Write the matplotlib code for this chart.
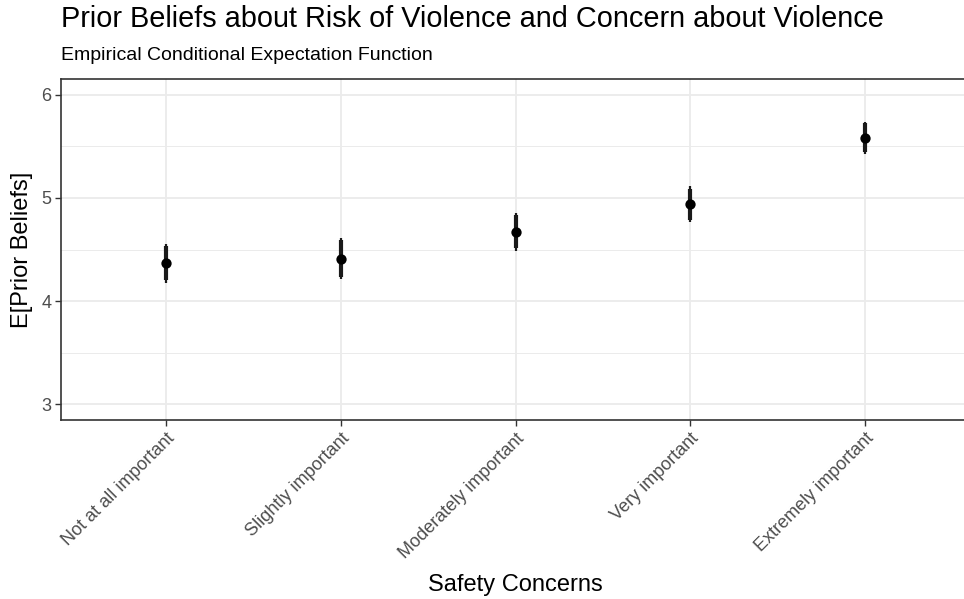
import matplotlib
matplotlib.use("Agg")
import matplotlib.pyplot as plt
from matplotlib.ticker import MultipleLocator

plt.rcParams['font.family'] = ['Liberation Sans', 'DejaVu Sans']

categories = ["Not at all important", "Slightly important", "Moderately important",
              "Very important", "Extremely important"]
means = [4.37, 4.41, 4.67, 4.94, 5.58]
lower95 = [4.18, 4.21, 4.49, 4.77, 5.42]
upper95 = [4.555, 4.61, 4.85, 5.11, 5.73]
lower90 = [4.20, 4.23, 4.51, 4.79, 5.44]
upper90 = [4.535, 4.59, 4.83, 5.09, 5.72]
yticks = [3, 4, 5, 6]

W, H = 964, 599
fig = plt.figure(figsize=(W / 100, H / 100), dpi=100)
left, right, top, bottom = 61, 970, 79, 420
ax = fig.add_axes([left / W, 1 - bottom / H, (right - left) / W, (bottom - top) / H])

x = list(range(len(categories)))
ax.vlines(x, lower95, upper95, color='#1a1a1a', linewidth=1.6, zorder=3)
ax.vlines(x, lower90, upper90, color='#1a1a1a', linewidth=3.0, zorder=3)
ax.scatter(x, means, s=55, color='black', zorder=4, linewidths=0)

ax.set_xlim(-0.6, len(categories) - 1 + 0.6)
ax.set_ylim(2.85, 6.15)
ax.set_xticks(x)
ax.set_xticklabels(categories, rotation=45, ha='right', va='top', rotation_mode='anchor')
ax.set_yticks(yticks)
ax.yaxis.set_minor_locator(MultipleLocator(0.5))

ax.grid(True, which='major', color='#EBEBEB', linewidth=1.3, zorder=0)
ax.grid(True, which='minor', axis='y', color='#EBEBEB', linewidth=0.7, zorder=0)
ax.set_axisbelow(True)
for s in ax.spines.values():
    s.set_color('#333333')
    s.set_linewidth(1.2)
ax.tick_params(axis='both', which='major', color='#333333', length=4, width=1.0,
               labelsize=13, labelcolor='#4D4D4D', pad=3)
ax.tick_params(axis='y', which='minor', length=0)

ax.set_xlabel("Safety Concerns", fontsize=17, color='black')
ax.set_ylabel("E[Prior Beliefs]", fontsize=17, color='black')
ax.xaxis.label.set_va('center')
ax.yaxis.label.set_va('center')
ax.xaxis.set_label_coords(0.5, (bottom - 585) / (bottom - top))
ax.yaxis.set_label_coords((22 - left) / (right - left), 0.5)

fig.text(left / W, 1 - 27 / H, "Prior Beliefs about Risk of Violence and Concern about Violence",
         fontsize=20.8, color='black', ha='left', va='baseline')
fig.text(left / W, 1 - 60 / H, "Empirical Conditional Expectation Function",
         fontsize=14, color='black', ha='left', va='baseline')

fig.savefig("out.png", dpi=100)
